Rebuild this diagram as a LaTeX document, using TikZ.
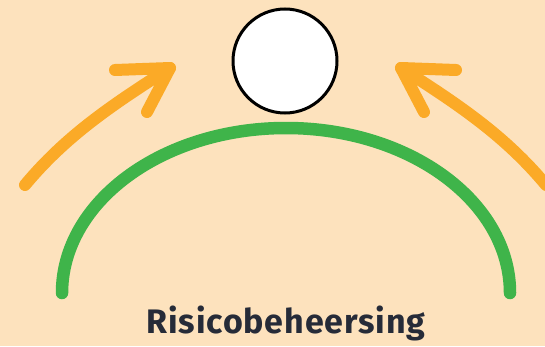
\documentclass[tikz,border=0pt]{standalone}
\usepackage{fontspec}
\setmainfont{Fira Sans}[LetterSpace=2.5]
\definecolor{peach}{HTML}{FDE2BD}
\definecolor{riskorange}{HTML}{FBAA27}
\definecolor{riskgreen}{HTML}{3FB44A}
\definecolor{darktext}{HTML}{262B38}
\begin{document}
\begin{tikzpicture}[x=1pt, y=1pt,
    arrowline/.style={riskorange, line width=12pt, line cap=round, line join=round},
    arcline/.style={riskgreen, line width=12.5pt, line cap=round}]
    \fill [peach] (0,0) rectangle (545,346);
    \useasboundingbox (0,0) rectangle (545,346);
    \draw [arcline] (62,53) arc [start angle=180, end angle=0, x radius=224, y radius=165];
    \node (ball) [circle, draw=black, line width=3pt, fill=white, minimum size=104pt, inner sep=0pt] at (285,285) {};
    \draw [arrowline] (25,161) .. controls (65,209) and (110,240) .. (170,278);
    \draw [arrowline] (115,276) -- (170,278) -- (147,234);
    \draw [arrowline] (546,161) .. controls (506,209) and (461,240) .. (401,278);
    \draw [arrowline] (456,276) -- (401,278) -- (424,234);
    \node (label) [anchor=base, text=darktext, font=\fontsize{34}{36}\selectfont\bfseries] at (286,13) {Risicobeheersing};
\end{tikzpicture}
\end{document}
